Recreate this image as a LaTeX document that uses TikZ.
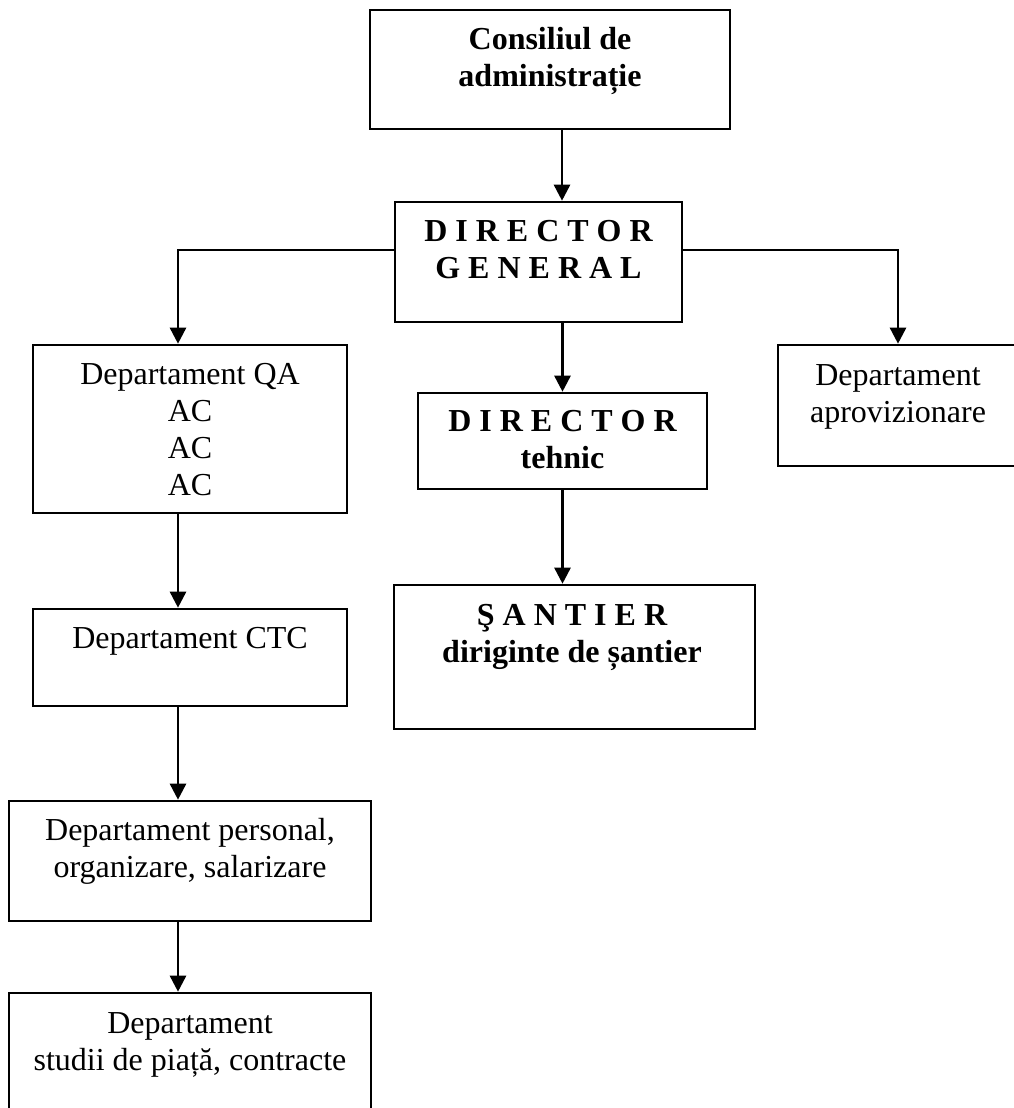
\documentclass[tikz,border=0pt]{standalone}
\usepackage{fontspec}
\setmainfont{Liberation Serif}
\usetikzlibrary{arrows.meta}
\tikzset{
  box/.style={draw, line width=2.6pt, inner sep=0pt, rectangle},
  txt/.style={inner sep=0pt, align=center, font=\fontsize{32}{36.8}\selectfont},
  btxt/.style={txt, font=\fontsize{32}{36.8}\selectfont\bfseries},
  arr/.style={line width=2.6pt, -{Triangle[width=16pt,length=16pt]}}
}
\begin{document}
\begin{tikzpicture}[x=1pt,y=-1pt]
\useasboundingbox (0,0) rectangle (1014,1108);
\clip (0,0) rectangle (1014,1108);
\fill[white] (0,0) rectangle (1014,1108);
% boxes
\node[box, minimum width=360pt, minimum height=119pt] (cons) at (550,69.5) {};
\node[box, minimum width=287pt, minimum height=120pt] (dg) at (538.5,262) {};
\node[box, minimum width=314pt, minimum height=168pt] (qa) at (190,429) {};
\node[box, minimum width=289pt, minimum height=96pt] (dt) at (562.5,441) {};
\node[box, minimum width=240pt, minimum height=121pt] (apr) at (898,405.5) {};
\node[box, minimum width=314pt, minimum height=97pt] (ctc) at (190,657.5) {};
\node[box, minimum width=361pt, minimum height=144pt] (san) at (574.5,657) {};
\node[box, minimum width=362pt, minimum height=120pt] (pers) at (190,861) {};
\node[box, minimum width=362pt, minimum height=130pt] (stud) at (190,1058) {};
% texts (anchor base = baseline of the last line)
\node[btxt, anchor=base] (tcons) at (550,86) {Consiliul de\\administrație};
\node[btxt, anchor=base] (tdg) at (538.5,278) {D I R E C T O R\\G E N E R A L};
\node[txt, anchor=base] (tqa) at (190,495) {Departament QA\\AC\\AC\\AC};
\node[btxt, anchor=base] (tdt) at (562.5,468) {D I R E C T O R\\tehnic};
\node[txt, anchor=base] (tapr) at (898,422) {Departament\\aprovizionare};
\node[txt, anchor=base] (tctc) at (190,648) {Departament CTC};
\node[btxt, anchor=base] (tsan) at (572,662) {Ş A N T I E R\\diriginte de șantier};
\node[txt, anchor=base] (tpers) at (190,877) {Departament personal,\\organizare, salarizare};
\node[txt, anchor=base] (tstud) at (190,1070) {Departament\\studii de piață, contracte};
% connectors
\draw[arr] ([xshift=12pt]cons.south) -- ([xshift=12pt]cons.south |- dg.north);
\draw[arr] ([yshift=12pt]dg.west) -| ([xshift=-12pt]qa.north);
\draw[arr] ([yshift=12pt]dg.east) -| (apr.north);
\draw[arr] (dt.north |- dg.south) -- (dt.north);
\draw[arr] (dt.south) -- (dt.south |- san.north);
\draw[arr] ([xshift=-12pt]qa.south) -- ([xshift=-12pt]ctc.north);
\draw[arr] ([xshift=-12pt]ctc.south) -- ([xshift=-12pt]pers.north);
\draw[arr] ([xshift=-12pt]pers.south) -- ([xshift=-12pt]stud.north);
\end{tikzpicture}
\end{document}
